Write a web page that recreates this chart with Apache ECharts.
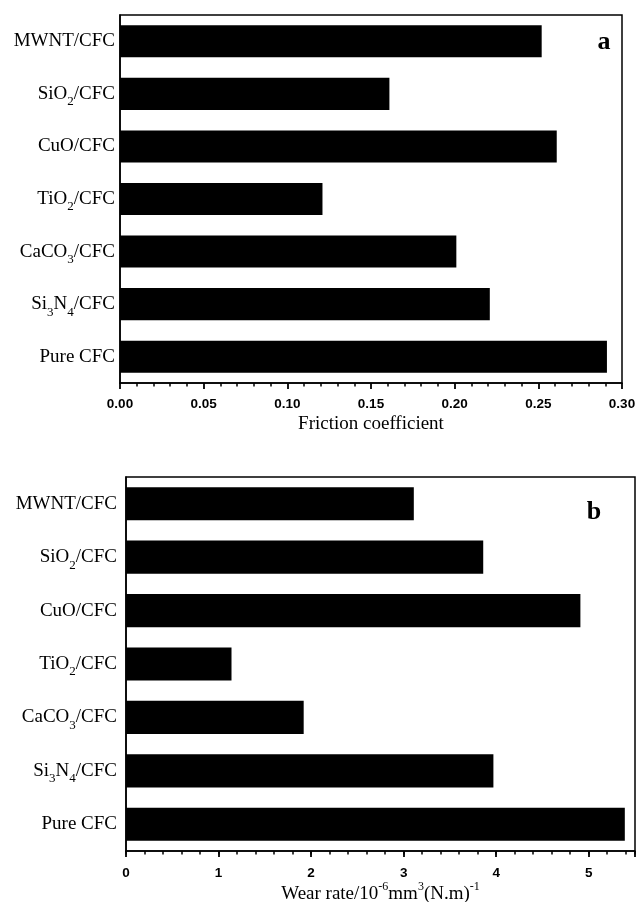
<!DOCTYPE html>
<html><head><meta charset="utf-8">
<script src="https://cdn.jsdelivr.net/npm/echarts@6/dist/echarts.min.js"></script>
<style>html,body{margin:0;padding:0;background:#fff}#c{width:637px;height:902px}</style>
</head><body><div id="c"></div>
<script>
// ---- data ----
const categories = ['MWNT/CFC', 'SiO2/CFC', 'CuO/CFC', 'TiO2/CFC', 'CaCO3/CFC', 'Si3N4/CFC', 'Pure CFC'];
const frictionValues = [0.252, 0.161, 0.261, 0.121, 0.201, 0.221, 0.291];
const wearValues = [3.11, 3.86, 4.91, 1.14, 1.92, 3.97, 5.39];
const frictionAxis = { min: 0, max: 0.30, interval: 0.05 };
const wearAxis = { min: 0, max: 5.5, interval: 1, minorInterval: 0.2 };
const frictionTitle = 'Friction coefficient';
const wearTitle = 'Wear rate/10{sup|-6}mm{sup|3}(N.m){sup|-1}';
const panelLetters = ['a', 'b'];

// ---- chart ----
const serif = '"Liberation Serif", "Times New Roman", serif';
const sans = '"Liberation Sans", Arial, sans-serif';
const subFmt = n => n.replace(/(\d)/g, '{s|$1}');
const catLabel = margin => ({
  margin: margin, color: '#000', fontFamily: serif, fontSize: 19, lineHeight: 24,
  formatter: subFmt,
  rich: { s: { fontFamily: serif, fontSize: 13, color: '#000', padding: [16, 0, 0, 0] } }
});
const axisLine = { show: true, lineStyle: { color: '#000', width: 1.5 } };
const chart = echarts.init(document.getElementById('c'), null, { renderer: 'canvas' });
chart.setOption({
  animation: false,
  backgroundColor: '#fff',
  grid: [
    { left: 120, top: 15, width: 502, height: 368, outerBoundsMode: 'none', containLabel: false,
      show: true, borderColor: '#000', borderWidth: 1.5, backgroundColor: 'transparent' },
    { left: 126, top: 477, width: 509, height: 374, outerBoundsMode: 'none', containLabel: false,
      show: true, borderColor: '#000', borderWidth: 1.5, backgroundColor: 'transparent' }
  ],
  xAxis: [
    {
      type: 'value', gridIndex: 0, min: frictionAxis.min, max: frictionAxis.max, interval: frictionAxis.interval,
      axisLine: axisLine, splitLine: { show: false },
      axisTick: { show: true, length: 6, lineStyle: { color: '#000', width: 1.8 } },
      minorTick: { show: true, splitNumber: 5, length: 3.5, lineStyle: { color: '#000', width: 1.5 } },
      axisLabel: { margin: 14, color: '#000', fontFamily: sans, fontWeight: 'bold', fontSize: 13.5, formatter: v => v.toFixed(2) },
      name: frictionTitle, nameLocation: 'middle', nameGap: 32,
      nameTextStyle: { color: '#000', fontFamily: serif, fontSize: 19 }
    },
    {
      type: 'value', gridIndex: 1, min: wearAxis.min, max: wearAxis.max, interval: wearAxis.interval,
      axisLine: axisLine, splitLine: { show: false },
      axisTick: { show: true, length: 6, lineStyle: { color: '#000', width: 1.8 } },
      axisLabel: { margin: 15, color: '#000', fontFamily: sans, fontWeight: 'bold', fontSize: 13.5,
        formatter: v => (Math.abs(v - Math.round(v)) < 1e-9 ? String(Math.round(v)) : '') },
      name: wearTitle, nameLocation: 'middle', nameGap: 28,
      nameTextStyle: { color: '#000', fontFamily: serif, fontSize: 19, lineHeight: 24,
        rich: { sup: { fontFamily: serif, fontSize: 12, color: '#000', padding: [0, 0, 14, 0] } } }
    },
    {
      type: 'value', gridIndex: 1, min: wearAxis.min, max: wearAxis.max, interval: wearAxis.minorInterval,
      position: 'bottom', axisLine: { show: false }, splitLine: { show: false }, axisLabel: { show: false },
      axisTick: { show: true, length: 3.5, lineStyle: { color: '#000', width: 1.5 } }
    }
  ],
  yAxis: [
    { type: 'category', gridIndex: 0, data: categories, inverse: true, axisLine: axisLine,
      axisTick: { show: false }, axisLabel: catLabel(5) },
    { type: 'category', gridIndex: 1, data: categories, inverse: true, axisLine: axisLine,
      axisTick: { show: false }, axisLabel: catLabel(9) }
  ],
  series: [
    { type: 'bar', xAxisIndex: 0, yAxisIndex: 0, data: frictionValues, barCategoryGap: '39%',
      itemStyle: { color: '#000' }, silent: true },
    { type: 'bar', xAxisIndex: 1, yAxisIndex: 1, data: wearValues, barCategoryGap: '38%',
      itemStyle: { color: '#000' }, silent: true }
  ],
  graphic: [
    { type: 'text', x: 604, y: 42, style: { text: panelLetters[0], fill: '#000', font: 'bold 26px "Liberation Serif"', align: 'center', verticalAlign: 'middle' } },
    { type: 'text', x: 594, y: 512, style: { text: panelLetters[1], fill: '#000', font: 'bold 26px "Liberation Serif"', align: 'center', verticalAlign: 'middle' } }
  ]
});
</script></body></html>
